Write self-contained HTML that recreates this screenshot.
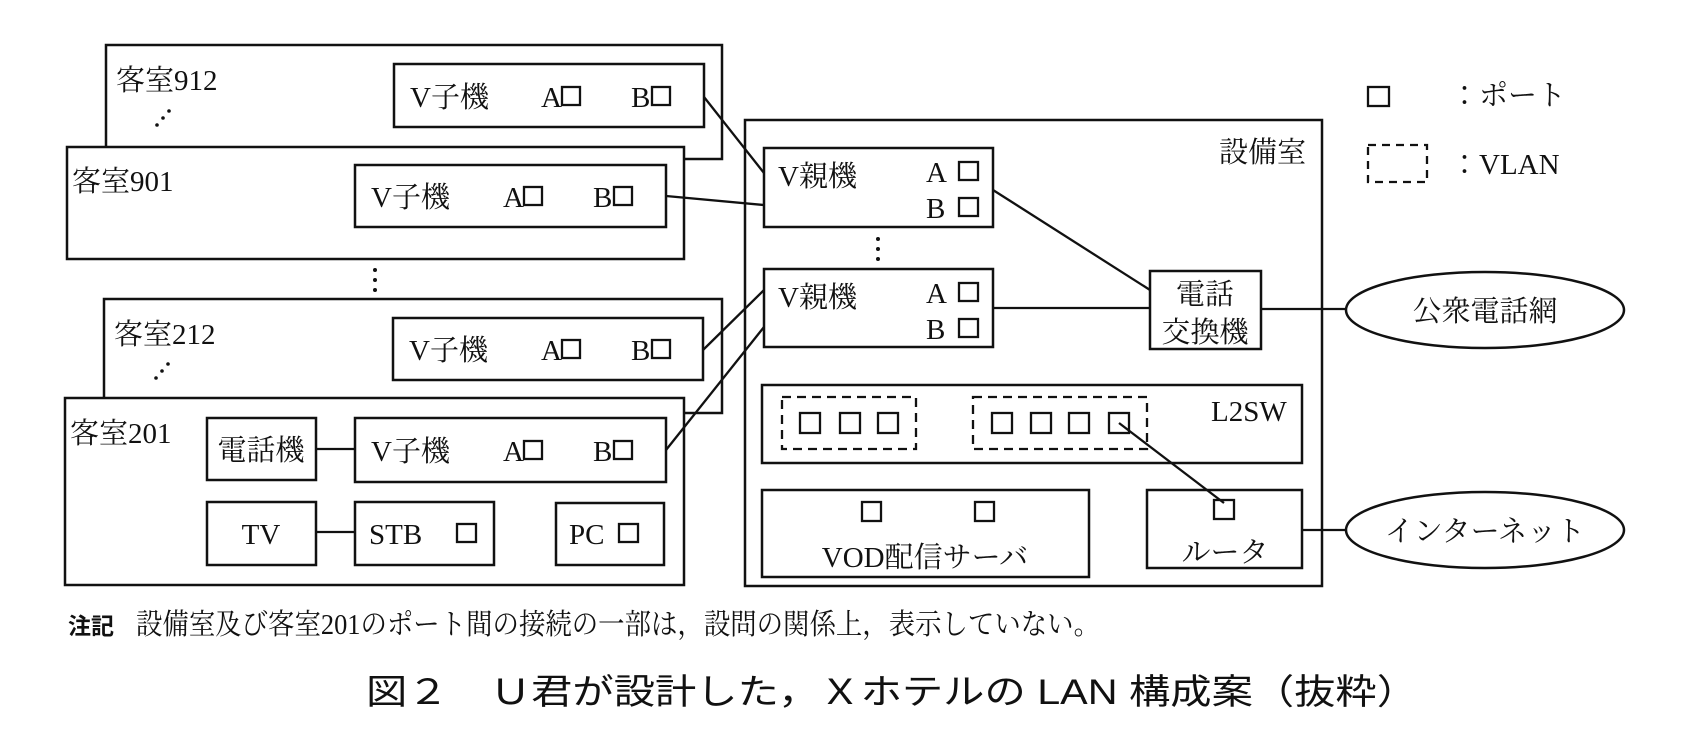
<!DOCTYPE html>
<html><head><meta charset="utf-8"><style>
html,body{margin:0;padding:0;background:#fff;}
svg{display:block;}
.m{font-family:"Liberation Serif","Noto Serif CJK JP",serif;font-size:29px;fill:#111;}
.g{font-family:"Liberation Sans","Noto Sans CJK JP",sans-serif;fill:#111;}
</style></head><body>
<svg width="1700" height="738" viewBox="0 0 1700 738" xmlns="http://www.w3.org/2000/svg">
<g fill="#fff" stroke="#111" stroke-width="2.5">
<rect x="106" y="45" width="616" height="114"/>
<rect x="67" y="147" width="617" height="112"/>
<rect x="104" y="299" width="618" height="114"/>
<rect x="65" y="398" width="619" height="187"/>
<rect x="394" y="64" width="310" height="63"/>
<rect x="355" y="165" width="311" height="62"/>
<rect x="393" y="318" width="310" height="62"/>
<rect x="355" y="418" width="311" height="64"/>
<rect x="207" y="418" width="109" height="62"/>
<rect x="207" y="502" width="109" height="63"/>
<rect x="355" y="502" width="139" height="63"/>
<rect x="556" y="503" width="108" height="62"/>
<rect x="745" y="120" width="577" height="466"/>
<rect x="764" y="148" width="229" height="79"/>
<rect x="764" y="269" width="229" height="78"/>
<rect x="1150" y="271" width="111" height="78"/>
<rect x="762" y="385" width="540" height="78"/>
<rect x="762" y="490" width="327" height="87"/>
<rect x="1147" y="490" width="155" height="78"/>
<ellipse cx="1485" cy="310" rx="139" ry="38"/>
<ellipse cx="1485" cy="530" rx="139" ry="38"/>
</g>
<g fill="none" stroke="#111" stroke-width="2.3">
<rect x="562" y="87" width="18" height="18"/><rect x="652" y="87" width="18" height="18"/>
<rect x="524" y="187" width="18" height="18"/><rect x="614" y="187" width="18" height="18"/>
<rect x="562" y="340" width="18" height="18"/><rect x="652" y="340" width="18" height="18"/>
<rect x="524" y="441" width="18" height="18"/><rect x="614" y="441" width="18" height="18"/>
<rect x="457" y="524" width="19" height="18"/><rect x="619" y="524" width="19" height="18"/>
<rect x="959" y="162" width="19" height="18"/><rect x="959" y="198" width="19" height="18"/>
<rect x="959" y="283" width="19" height="18"/><rect x="959" y="319" width="19" height="18"/>
<rect x="800" y="413" width="20" height="20"/><rect x="840" y="413" width="20" height="20"/><rect x="878" y="413" width="20" height="20"/>
<rect x="992" y="413" width="20" height="20"/><rect x="1031" y="413" width="20" height="20"/><rect x="1069" y="413" width="20" height="20"/><rect x="1109" y="413" width="20" height="20"/>
<rect x="862" y="502" width="19" height="19"/><rect x="975" y="502" width="19" height="19"/>
<rect x="1214" y="500" width="20" height="19"/>
<rect x="1368" y="87" width="21" height="19"/>
<rect x="782" y="397" width="134" height="52" stroke-dasharray="9,6"/>
<rect x="973" y="397" width="174" height="52" stroke-dasharray="9,6"/>
<rect x="1368" y="145" width="59" height="37" stroke-dasharray="8,6"/>
<line x1="704" y1="97" x2="764" y2="173"/>
<line x1="666" y1="196" x2="764" y2="205"/>
<line x1="703" y1="350" x2="764" y2="290"/>
<line x1="666" y1="450" x2="764" y2="327"/>
<line x1="993" y1="190" x2="1150" y2="290"/>
<line x1="993" y1="308" x2="1150" y2="308"/>
<line x1="1261" y1="309" x2="1346" y2="309"/>
<line x1="1119" y1="423" x2="1224" y2="503"/>
<line x1="1302" y1="530" x2="1346" y2="530"/>
<line x1="316" y1="449" x2="355" y2="449"/>
<line x1="316" y1="532" x2="355" y2="532"/>
</g>
<g fill="#111">
<circle cx="157" cy="125" r="1.8"/><circle cx="163" cy="118" r="1.8"/><circle cx="169" cy="111" r="1.8"/>
<circle cx="156" cy="378" r="1.8"/><circle cx="162" cy="371" r="1.8"/><circle cx="168" cy="364" r="1.8"/>
<circle cx="375" cy="270" r="2"/><circle cx="375" cy="280" r="2"/><circle cx="375" cy="290" r="2"/>
<circle cx="878" cy="239" r="2"/><circle cx="878" cy="249" r="2"/><circle cx="878" cy="259" r="2"/>
</g>
<g class="m">
<text x="116" y="90">客室912</text>
<text x="72" y="191">客室901</text>
<text x="114" y="344">客室212</text>
<text x="70" y="443">客室201</text>
<text x="410" y="107">V子機</text><text x="541" y="107">A</text><text x="631" y="107">B</text>
<text x="371" y="207">V子機</text><text x="503" y="207">A</text><text x="593" y="207">B</text>
<text x="409" y="360">V子機</text><text x="541" y="360">A</text><text x="631" y="360">B</text>
<text x="371" y="461">V子機</text><text x="503" y="461">A</text><text x="593" y="461">B</text>
<text x="261" y="460" text-anchor="middle">電話機</text>
<text x="261" y="544" text-anchor="middle">TV</text>
<text x="369" y="544">STB</text>
<text x="569" y="544">PC</text>
<text x="1219" y="162">設備室</text>
<text x="778" y="186">V親機</text><text x="926" y="182">A</text><text x="926" y="218">B</text>
<text x="778" y="307">V親機</text><text x="926" y="303">A</text><text x="926" y="339">B</text>
<text x="1205" y="304" text-anchor="middle">電話</text>
<text x="1205" y="342" text-anchor="middle">交換機</text>
<text x="1485" y="321" text-anchor="middle">公衆電話網</text>
<text x="1485" y="541" text-anchor="middle">インターネット</text>
<text x="1211" y="421">L2SW</text>
<text x="925" y="567" text-anchor="middle">VOD配信サーバ</text>
<text x="1225" y="562" text-anchor="middle">ルータ</text>
<text x="1450" y="105">：ポート</text>
<text x="1450" y="174">：VLAN</text>
</g>
<text class="g" x="68" y="634" font-size="23" font-weight="bold">注記</text>
<text class="m" x="136" y="634" font-size="24" textLength="964" lengthAdjust="spacingAndGlyphs">設備室及び客室201のポート間の接続の一部は，設問の関係上，表示していない。</text>
<text class="g" x="366" y="704" font-size="35" textLength="1052" lengthAdjust="spacingAndGlyphs">図２　Ｕ君が設計した，Ｘホテルの LAN 構成案（抜粋）</text>
</svg>
</body></html>
